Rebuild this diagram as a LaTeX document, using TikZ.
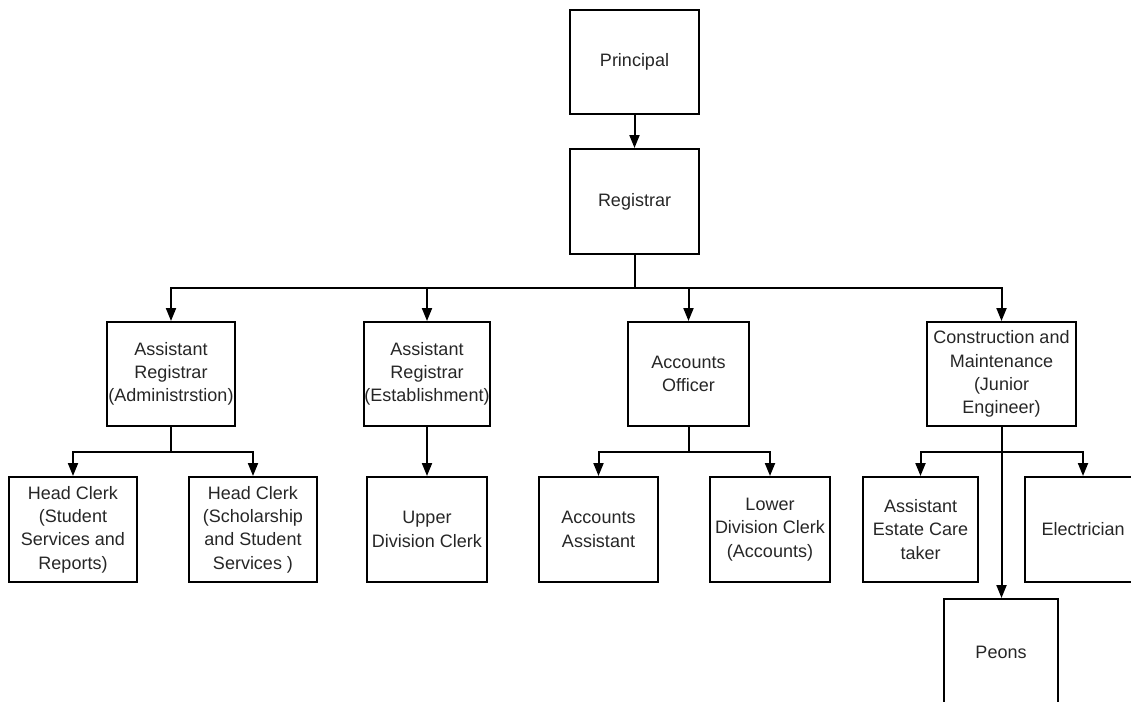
\documentclass[tikz,border=0pt]{standalone}
\usepackage{fontspec}
\setmainfont{Liberation Sans}
\usetikzlibrary{arrows.meta}
\begin{document}
\begin{tikzpicture}[x=1pt,y=-1pt,
  box/.style={draw=black, line width=2pt, rectangle, inner sep=0pt, align=center,
    font=\fontsize{18}{23.3}\selectfont, text=black!85},
  arr/.style={line width=2pt, -{Triangle[length=13pt,width=10pt]}},
  ln/.style={line width=2pt}]
\useasboundingbox (0,0) rectangle (1131,701);
% top
\node[box, minimum width=129pt, minimum height=104pt] (principal) at (634.5,62) {Principal};
\node[box, minimum width=129pt, minimum height=105pt] (registrar) at (634.5,201.5) {Registrar};
% level 1
\node[box, minimum width=128pt, minimum height=104pt] (aradm) at (171,374) {Assistant\\Registrar\\(Administrstion)};
\node[box, minimum width=120pt, minimum height=104pt] (arest) at (427,374) {Assistant\\Registrar\\(Establishment)};
\node[box, minimum width=121pt, minimum height=104pt] (ao) at (688.5,374) {Accounts\\Officer};
\node[box, minimum width=149pt, minimum height=104pt] (cm) at (1001.5,374) {Construction and\\Maintenance\\(Junior\\Engineer)};
% level 2
\node[box, minimum width=128pt, minimum height=105pt] (hc1) at (73,529.5) {Head Clerk\\(Student\\Services and\\Reports)};
\node[box, minimum width=128pt, minimum height=105pt] (hc2) at (253,529.5) {Head Clerk\\(Scholarship\\and Student\\Services )};
\node[box, minimum width=120pt, minimum height=105pt] (udc) at (427,529.5) {Upper\\Division Clerk};
\node[box, minimum width=119pt, minimum height=105pt] (aa) at (598.5,529.5) {Accounts\\Assistant};
\node[box, minimum width=120pt, minimum height=105pt] (ldc) at (770,529.5) {Lower\\Division Clerk\\(Accounts)};
\node[box, minimum width=115pt, minimum height=105pt] (aect) at (920.5,529.5) {Assistant\\Estate Care\\taker};
\node[box, minimum width=116pt, minimum height=105pt] (elec) at (1083,529.5) {Electrician};
\node[box, minimum width=114pt, minimum height=106pt] (peons) at (1001,652) {Peons};
% bus levels
\coordinate (b1) at (0,288);
\coordinate (b2) at (0,452);
% connectors
\draw[arr] (principal.south) -- (registrar.north);
\draw[ln] (registrar.south) -- (registrar.south |- b1);
\foreach \n in {aradm,arest,ao,cm}
  \draw[arr] (registrar.south |- b1) -| (\n.north);
\draw[ln] (aradm.south) -- (aradm.south |- b2);
\draw[arr] (aradm.south |- b2) -| (hc1.north);
\draw[arr] (aradm.south |- b2) -| (hc2.north);
\draw[arr] (arest.south) -- (udc.north);
\draw[ln] (ao.south) -- (ao.south |- b2);
\draw[arr] (ao.south |- b2) -| (aa.north);
\draw[arr] (ao.south |- b2) -| (ldc.north);
\draw[ln] (cm.south) -- (cm.south |- b2);
\draw[arr] (cm.south |- b2) -| (aect.north);
\draw[arr] (cm.south |- b2) -| (elec.north);
\draw[arr] (cm.south) -- (cm.south |- peons.north);
\end{tikzpicture}
\end{document}
